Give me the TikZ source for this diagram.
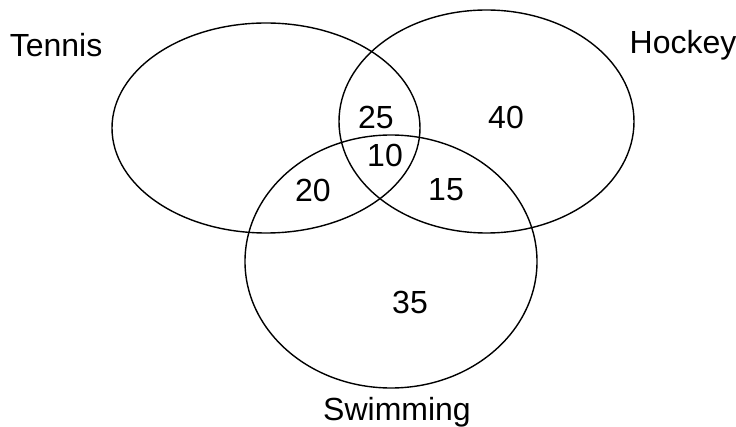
\documentclass[tikz,border=0pt]{standalone}
\usepackage{fontspec}
\setmainfont{Liberation Sans}
\begin{document}
\begin{tikzpicture}[x=1pt,y=-1pt,
  setline/.style={draw=black,line width=1.4pt},
  lbl/.style={font=\fontsize{32}{36}\selectfont,inner sep=0pt}]
\useasboundingbox (0,0) rectangle (736,427);
\draw[setline] (266,128) ellipse [x radius=154, y radius=105];
\draw[setline] (486.5,121.5) ellipse [x radius=147.5, y radius=111.5];
\draw[setline] (391,261.5) ellipse [x radius=146, y radius=126.5];
\node[lbl] (tennis) at (56,45) {Tennis};
\node[lbl] (hockey) at (683,45) {Hockey};
\node[lbl] (swim) at (397,412) {Swimming};
\node[lbl] (n25) at (376,117) {25};
\node[lbl] (n40) at (506,117) {40};
\node[lbl] (n10) at (385,155) {10};
\node[lbl] (n20) at (313,190) {20};
\node[lbl] (n15) at (446,190) {15};
\node[lbl] (n35) at (410,302) {35};
\end{tikzpicture}
\end{document}
